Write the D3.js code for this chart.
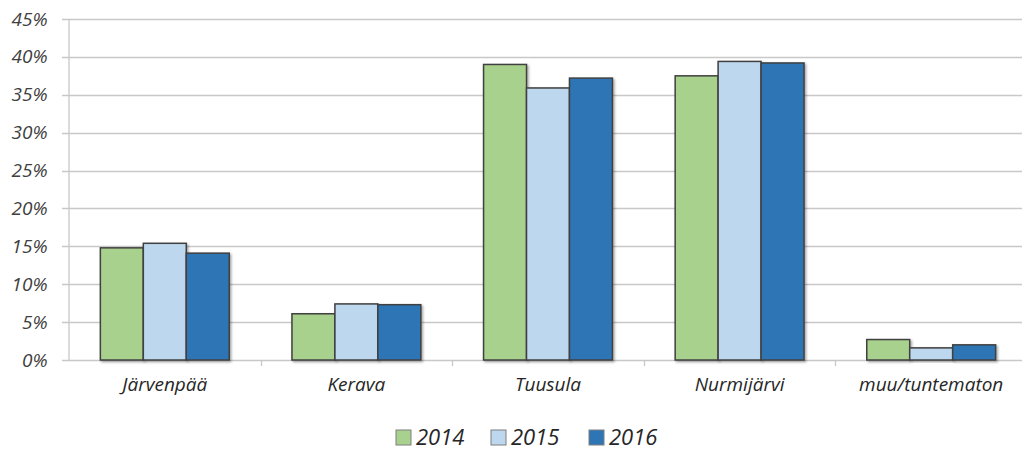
<!DOCTYPE html>
<html><head><meta charset="utf-8">
<script src="https://cdn.jsdelivr.net/npm/d3@7/dist/d3.min.js"></script>
<style>body{margin:0;background:#fff;} text{font-family:"Open Sans","Liberation Sans",sans-serif;font-style:italic;}</style>
</head><body><svg id="c" width="1024" height="450"></svg>
<script>
const categories = ["Järvenpää","Kerava","Tuusula","Nurmijärvi","muu/tuntematon"];
const seriesNames = ["2014","2015","2016"];
const values2014 = [14.8, 6.1, 39.0, 37.5, 2.7];
const values2015 = [15.4, 7.4, 35.9, 39.4, 1.6];
const values2016 = [14.1, 7.3, 37.2, 39.2, 2.0];
const yTicks = [0,5,10,15,20,25,30,35,40,45];
const colors = ["#a9d18e","#bdd7ee","#2e75b6"];

(function(){
const series = [values2014, values2015, values2016];
const svg = d3.select("#c");
const pL = 69, pR = 1027, pT = 19, pB = 360;
const x = d3.scaleBand().domain(categories).range([pL, pR]).paddingInner(0).paddingOuter(0);
const x1 = d3.scaleBand().domain(seriesNames).range([0, x.bandwidth()]).paddingInner(0).paddingOuter(0.73);
const y = d3.scaleLinear().domain([0,45]).range([pB, pT]);

const defs = svg.append("defs");
const f = defs.append("filter").attr("id","sh").attr("x","-20%").attr("y","-20%").attr("width","140%").attr("height","140%");
f.append("feDropShadow").attr("dx",1.5).attr("dy",1.5).attr("stdDeviation",1.2).attr("flood-color","#000").attr("flood-opacity",0.35);

// grid
const grid = svg.append("g");
grid.selectAll("line").data(yTicks).join("line")
  .attr("x1", 62).attr("x2", 1022)
  .attr("y1", d=>Math.round(y(d))+0.5).attr("y2", d=>Math.round(y(d))+0.5)
  .attr("stroke","#c8c8c8").attr("stroke-width",1.3);

// y axis
const yAxis = d3.axisLeft(y).tickValues(yTicks).tickFormat(d=>d+"%").tickSize(0).tickPadding(21);
const ya = svg.append("g").attr("transform",`translate(${pL - 0.5},0)`).call(yAxis);
ya.select(".domain").attr("stroke","#c8c8c8").attr("stroke-width",1.3);
ya.selectAll("text").attr("font-size",19).attr("fill","#404040");

// x axis
const xAxis = d3.axisBottom(x).tickSize(0).tickPadding(17);
const xa = svg.append("g").attr("transform",`translate(0,${pB+0.5})`).call(xAxis);
xa.select(".domain").remove();
xa.selectAll("text").attr("font-size",19).attr("fill","#262626");
svg.append("g").selectAll("line").data(categories.slice(1)).join("line")
  .attr("x1",d=>Math.round(x(d))+0.5).attr("x2",d=>Math.round(x(d))+0.5)
  .attr("y1",pB).attr("y2",pB+6).attr("stroke","#c8c8c8").attr("stroke-width",1.3);

// bars
const g = svg.append("g");
categories.forEach((c,i)=>{
  seriesNames.forEach((s,j)=>{
    g.append("rect")
      .attr("x", x(c)+x1(s)).attr("width", x1.bandwidth())
      .attr("y", y(series[j][i])).attr("height", y(0)-y(series[j][i]))
      .attr("fill", colors[j]).attr("stroke","#404040").attr("stroke-width",1.5)
      .attr("filter","url(#sh)");
  });
});

// legend
const legendX = [396, 491, 589];
const lg = svg.append("g");
seriesNames.forEach((s,j)=>{
  lg.append("rect").attr("x",legendX[j]).attr("y",430).attr("width",15).attr("height",15)
    .attr("fill",colors[j]).attr("stroke","#7f7f7f").attr("stroke-width",1);
  lg.append("text").attr("x",legendX[j]+20).attr("y",445).text(s)
    .attr("font-size",22).attr("fill","#262626");
});
})();
</script></body></html>
